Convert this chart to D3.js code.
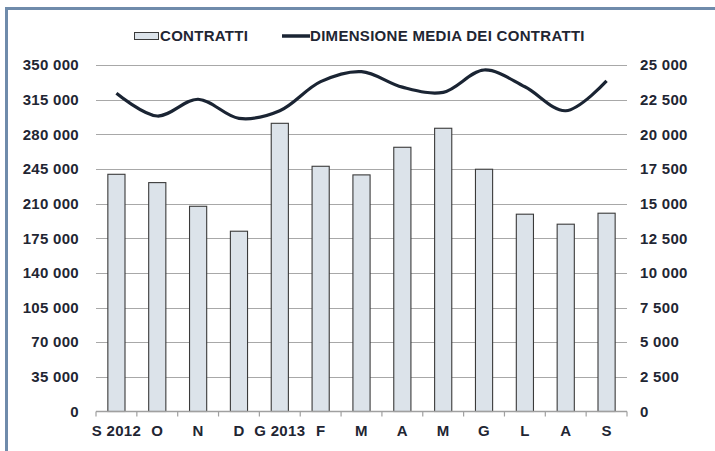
<!DOCTYPE html>
<html>
<head>
<meta charset="utf-8">
<script src="https://cdn.jsdelivr.net/npm/d3@7"></script>
<style>
  body { margin: 0; background: #fff; }
  svg { display: block; font-family: "Liberation Sans", Arial, sans-serif; font-weight: bold; letter-spacing: 0.3px; }
</style>
</head>
<body>
<svg id="chart" width="715" height="451"></svg>
<script>
// Chart data
const months = ['S 2012', 'O', 'N', 'D', 'G 2013', 'F', 'M', 'A', 'M', 'G', 'L', 'A', 'S'];
const contratti = [239600, 231200, 207300, 182100, 291100, 247700, 239000, 266900, 286100, 244700, 199300, 189200, 200300];
const dimensioneMedia = [22960, 21320, 22530, 21150, 21700, 23800, 24520, 23400, 23030, 24640, 23430, 21700, 23850];
const leftTicks = [0, 35000, 70000, 105000, 140000, 175000, 210000, 245000, 280000, 315000, 350000];
const rightTicks = [0, 2500, 5000, 7500, 10000, 12500, 15000, 17500, 20000, 22500, 25000];
const legendLabels = ['CONTRATTI', 'DIMENSIONE MEDIA DEI CONTRATTI'];

const svg = d3.select('#chart');
const textColor = '#1f2633';
const fontSize = 15;

// Plot area
const plotLeft = 96, plotRight = 627, plotTop = 65, plotBottom = 411.5;

const x = d3.scaleBand().domain(d3.range(months.length)).range([plotLeft, plotRight]).paddingInner(0.58).paddingOuter(0.29);
const xb = d3.scaleBand().domain(d3.range(months.length)).range([plotLeft, plotRight]);
const yL = d3.scaleLinear().domain([0, 350000]).range([plotBottom, plotTop]);
const yR = d3.scaleLinear().domain([0, 25000]).range([plotBottom, plotTop]);

const fmt = v => d3.format(',')(v).replace(/,/g, ' ');

// Frame (only top and left visible)
svg.append('rect')
    .attr('x', 6.5).attr('y', 8.5)
    .attr('width', 760).attr('height', 500)
    .attr('fill', 'none')
    .attr('stroke', '#6f8bab')
    .attr('stroke-width', 3);

// Gridlines
svg.append('g')
    .selectAll('line')
    .data(leftTicks.slice(1))
    .join('line')
    .attr('x1', plotLeft).attr('x2', plotRight)
    .attr('y1', d => Math.round(yL(d)) + 0.5)
    .attr('y2', d => Math.round(yL(d)) + 0.5)
    .attr('stroke', '#a8a8a8')
    .attr('stroke-width', 1.2);

// Left axis labels
svg.append('g')
    .selectAll('text')
    .data(leftTicks)
    .join('text')
    .attr('x', 79)
    .attr('y', d => yL(d))
    .attr('dy', '0.35em')
    .attr('text-anchor', 'end')
    .attr('font-size', fontSize)
    .attr('fill', textColor)
    .text(fmt);

// Right axis labels
svg.append('g')
    .selectAll('text')
    .data(rightTicks)
    .join('text')
    .attr('x', 640)
    .attr('y', d => yR(d))
    .attr('dy', '0.35em')
    .attr('text-anchor', 'start')
    .attr('font-size', fontSize)
    .attr('fill', textColor)
    .text(fmt);

// Bars
svg.append('g')
    .selectAll('rect')
    .data(contratti)
    .join('rect')
    .attr('x', (d, i) => x(i))
    .attr('y', d => yL(d))
    .attr('width', x.bandwidth())
    .attr('height', d => plotBottom - yL(d))
    .attr('fill', '#dce3ea')
    .attr('stroke', '#3a3a3a')
    .attr('stroke-width', 1.1);

// X axis line and ticks
const xAxis = svg.append('g');
xAxis.append('line')
    .attr('x1', plotLeft).attr('x2', plotRight)
    .attr('y1', plotBottom).attr('y2', plotBottom)
    .attr('stroke', '#a0a0a0')
    .attr('stroke-width', 1.3);
xAxis.selectAll('line.tick')
    .data(d3.range(months.length + 1))
    .join('line')
    .attr('class', 'tick')
    .attr('x1', i => plotLeft + i * xb.bandwidth())
    .attr('x2', i => plotLeft + i * xb.bandwidth())
    .attr('y1', plotBottom).attr('y2', plotBottom + 5)
    .attr('stroke', '#a0a0a0')
    .attr('stroke-width', 1.2);
xAxis.selectAll('text')
    .data(months)
    .join('text')
    .attr('x', (d, i) => xb(i) + xb.bandwidth() / 2)
    .attr('y', 431)
    .attr('dy', '0.35em')
    .attr('text-anchor', 'middle')
    .attr('font-size', fontSize)
    .attr('fill', textColor)
    .text(d => d);

// Smoothed line on right axis
const line = d3.line()
    .x((d, i) => xb(i) + xb.bandwidth() / 2)
    .y(d => yR(d))
    .curve(d3.curveCatmullRom.alpha(0.5));

svg.append('path')
    .datum(dimensioneMedia)
    .attr('d', line)
    .attr('fill', 'none')
    .attr('stroke', '#1a2433')
    .attr('stroke-width', 3.2)
    .attr('stroke-linecap', 'butt');

// Legend
const legend = svg.append('g').attr('font-size', fontSize).attr('fill', textColor);
legend.append('rect')
    .attr('x', 134.5).attr('y', 32.5)
    .attr('width', 24).attr('height', 7)
    .attr('fill', '#dce3ea')
    .attr('stroke', '#3a3a3a')
    .attr('stroke-width', 1);
legend.append('text')
    .attr('x', 160).attr('y', 36)
    .attr('dy', '0.35em')
    .text(legendLabels[0]);
legend.append('line')
    .attr('x1', 282).attr('x2', 310)
    .attr('y1', 36).attr('y2', 36)
    .attr('stroke', '#1a2433')
    .attr('stroke-width', 3.5);
legend.append('text')
    .attr('x', 310).attr('y', 36)
    .attr('dy', '0.35em')
    .text(legendLabels[1]);
</script>
</body>
</html>
